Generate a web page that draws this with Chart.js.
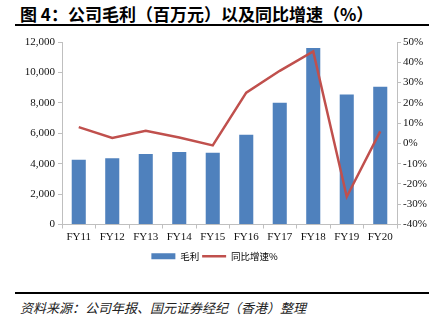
<!DOCTYPE html>
<html>
<head>
<meta charset="utf-8">
<script src="https://cdn.jsdelivr.net/npm/chart.js@4"></script>
<style>
  body { margin: 0; width: 429px; height: 327px; background: #fff; position: relative; overflow: hidden; }
  #title { position: absolute; left: 20px; top: 1px; font: bold 17px "Noto Sans CJK SC"; color: #000; white-space: nowrap; }
  .rule { position: absolute; left: 15px; width: 414px; height: 2px; background: #000; }
  #source { position: absolute; left: 20px; top: 298px; font: italic 13px "Noto Sans CJK SC"; color: #222; white-space: nowrap; }
  #box { position: absolute; left: 0; top: 30px; width: 429px; height: 245px; }
</style>
</head>
<body>
<div id="title">图 4：公司毛利（百万元）以及同比增速（%）</div>
<div class="rule" style="top:24px"></div>
<div id="box"><canvas id="myChart"></canvas></div>
<div class="rule" style="top:292px"></div>
<div id="source">资料来源：公司年报、国元证券经纪（香港）整理</div>
<script>
const years = ['FY11', 'FY12', 'FY13', 'FY14', 'FY15', 'FY16', 'FY17', 'FY18', 'FY19', 'FY20'];
const grossProfit = [4250, 4360, 4630, 4760, 4710, 5900, 8000, 11600, 8550, 9050];
const growth = [8.0, 2.7, 6.2, 2.9, -1.0, 25.0, 35.8, 45.3, -26.3, 5.9];
const seriesNames = ['毛利', '同比增速%'];

const tickFont = { family: 'Liberation Serif', size: 11 };
const ctx = document.getElementById('myChart').getContext('2d');
new Chart(ctx, {
    type: 'bar',
    data: {
        labels: years,
        datasets: [{
            label: seriesNames[0],
            data: grossProfit,
            backgroundColor: '#4F81BD',
            borderWidth: 0,
            yAxisID: 'y',
            barPercentage: 0.42,
            categoryPercentage: 1,
            order: 2
        }, {
            type: 'line',
            label: seriesNames[1],
            data: growth,
            borderColor: '#C0504D',
            backgroundColor: '#C0504D',
            borderWidth: 2.5,
            pointRadius: 0,
            tension: 0,
            yAxisID: 'y1',
            order: 1
        }]
    },
    options: {
        responsive: true,
        maintainAspectRatio: false,
        animation: false,
        layout: { padding: { top: 12, left: 0, right: 0, bottom: 4 } },
        plugins: {
            tooltip: { enabled: false },
            legend: {
                position: 'bottom',
                labels: {
                    font: { family: 'Noto Sans CJK SC', size: 9.5 },
                    color: '#333',
                    usePointStyle: true,
                    pointStyleWidth: 24,
                    boxHeight: 6,
                    padding: 3,
                    generateLabels: function(chart) {
                        return [{
                            text: seriesNames[0], fillStyle: '#4F81BD', strokeStyle: '#4F81BD',
                            lineWidth: 0, pointStyle: 'rect', datasetIndex: 0
                        }, {
                            text: seriesNames[1], fillStyle: '#C0504D', strokeStyle: '#C0504D',
                            lineWidth: 2.5, pointStyle: 'line', datasetIndex: 1
                        }];
                    }
                }
            }
        },
        scales: {
            x: {
                grid: { display: true, drawOnChartArea: false, offset: true, tickLength: 4, color: '#BFBFBF' },
                border: { color: '#BFBFBF' },
                ticks: { font: tickFont, color: '#111', padding: 2, maxRotation: 0, autoSkip: false },
                afterFit: function(scale) { scale.height = 24; }
            },
            y: {
                position: 'left',
                min: 0, max: 12000,
                grid: { drawOnChartArea: false, tickLength: 4, color: '#BFBFBF' },
                border: { color: '#BFBFBF' },
                ticks: {
                    stepSize: 2000, font: tickFont, color: '#111', padding: 3,
                    callback: function(v) { return v.toLocaleString('en-US'); }
                },
                afterFit: function(scale) { scale.width = 62; }
            },
            y1: {
                position: 'right',
                min: -40, max: 50,
                grid: { drawOnChartArea: false, tickLength: 4, color: '#BFBFBF' },
                border: { color: '#BFBFBF' },
                ticks: {
                    stepSize: 10, font: tickFont, color: '#111', padding: 2,
                    callback: function(v) { return v + '%'; }
                },
                afterFit: function(scale) { scale.width = 32; }
            }
        }
    }
});
</script>
</body>
</html>
